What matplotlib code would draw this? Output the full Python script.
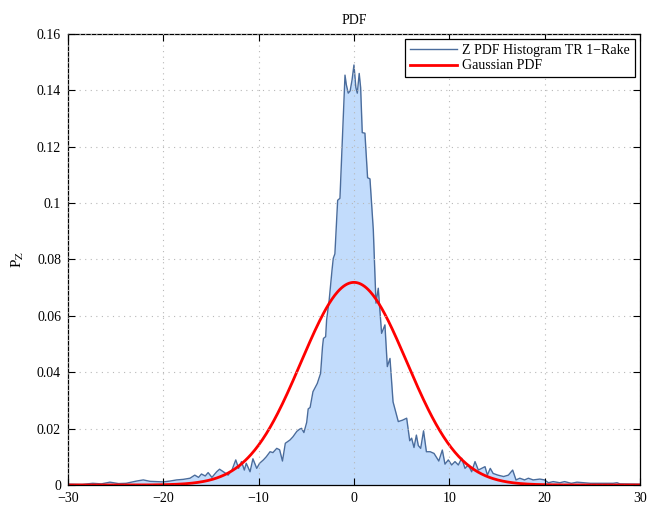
"""PDF của Z: histogram TR 1-Rake so với Gaussian PDF."""
import numpy as np
import matplotlib
matplotlib.use("Agg")
import matplotlib.pyplot as plt

plt.rcParams["font.family"] = ["Liberation Serif", "DejaVu Serif"]
plt.rcParams["mathtext.fontset"] = "stix"

# histogram
hist_x = [-30.0, -28.5, -27.4, -26.5, -25.6, -24.7, -23.9, -22.8, -22.1, -21.4,
          -20.7, -20.0, -19.3, -18.6, -17.9, -17.2, -16.7, -16.3, -16.0, -15.6,
          -15.3, -14.9, -14.4, -14.1, -13.7, -13.2, -12.8, -12.4, -12.1, -11.8,
          -11.5, -11.3, -10.9, -10.6, -10.2, -9.9, -9.5, -9.2, -8.8, -8.5,
          -8.1, -7.8, -7.5, -7.2, -6.7, -6.4, -6.0, -5.7, -5.5, -5.25,
          -4.96, -4.8, -4.6, -4.3, -3.85, -3.5, -3.3, -3.2, -2.97, -2.87,
          -2.6, -2.3, -2.17, -2.0, -1.71, -1.47, -1.2, -0.94, -0.8, -0.6,
          -0.4, -0.2, 0.0, 0.2, 0.35, 0.55, 0.7, 0.87, 1.15, 1.43,
          1.68, 2.03, 2.31, 2.55, 2.9, 3.25, 3.5, 3.78, 4.1, 4.65,
          5.1, 5.53, 5.85, 6.05, 6.3, 6.55, 6.75, 7.0, 7.3, 7.6,
          8.0, 8.4, 8.9, 9.27, 9.55, 9.9, 10.25, 10.6, 10.95, 11.3,
          11.65, 12.0, 12.35, 12.7, 13.05, 13.4, 13.75, 14.0, 14.3, 14.6,
          15.1, 15.7, 16.2, 16.65, 17.0, 17.4, 17.9, 18.3, 18.8, 19.5,
          20.0, 20.4, 20.9, 21.6, 22.1, 22.8, 23.4, 24.1, 24.8, 25.8,
          27.2, 27.6, 27.9, 30.0]
hist_p = [0.0003, 0.0002, 0.0006, 0.0004, 0.0010, 0.0005, 0.0006, 0.0014, 0.0018, 0.0013,
          0.0012, 0.0011, 0.0014, 0.0018, 0.0020, 0.0024, 0.0035, 0.0027, 0.0039, 0.0032,
          0.0044, 0.0027, 0.0047, 0.0056, 0.0047, 0.0035, 0.0053, 0.0089, 0.0059, 0.0083,
          0.0053, 0.0077, 0.0047, 0.0093, 0.0059, 0.0077, 0.0089, 0.0100, 0.0118, 0.0115,
          0.0130, 0.0125, 0.0085, 0.0148, 0.0160, 0.0171, 0.0190, 0.0198, 0.0201, 0.0186,
          0.0222, 0.0270, 0.0275, 0.0331, 0.0360, 0.0396, 0.0490, 0.0520, 0.0526, 0.0585,
          0.0656, 0.0763, 0.0804, 0.0820, 0.1010, 0.1017, 0.1240, 0.1454, 0.1420, 0.1390,
          0.1398, 0.1437, 0.1490, 0.1410, 0.1390, 0.1460, 0.1410, 0.1250, 0.1248, 0.1090,
          0.1086, 0.0905, 0.0645, 0.0698, 0.0538, 0.0568, 0.0420, 0.0449, 0.0295, 0.0225,
          0.0230, 0.0237, 0.0157, 0.0166, 0.0133, 0.0177, 0.0140, 0.0130, 0.0192, 0.0118,
          0.0118, 0.0112, 0.0085, 0.0124, 0.0074, 0.0089, 0.0071, 0.0083, 0.0071, 0.0095,
          0.0059, 0.0071, 0.0047, 0.0083, 0.0053, 0.0059, 0.0065, 0.0035, 0.0059, 0.0041,
          0.0035, 0.0030, 0.0035, 0.0053, 0.0018, 0.0024, 0.0018, 0.0024, 0.0018, 0.0021,
          0.0018, 0.0008, 0.0012, 0.0008, 0.0012, 0.0006, 0.0010, 0.0008, 0.0006, 0.0006,
          0.0006, 0.0008, 0.0004, 0.0003]

# tham số Gaussian (mu, sigma) ước lượng từ hình
gauss_mu = 0.0
gauss_sigma = 5.55

x_ticks = [-30, -20, -10, 0, 10, 20, 30]
y_ticks = [0, 0.02, 0.04, 0.06, 0.08, 0.1, 0.12, 0.14, 0.16]

gx = np.linspace(-30, 30, 601)
gy = np.exp(-0.5 * ((gx - gauss_mu) / gauss_sigma) ** 2) / (gauss_sigma * np.sqrt(2 * np.pi))

fig = plt.figure(figsize=(6.57, 5.07), dpi=100)
ax = fig.add_axes([0.1035, 0.0434, 0.8705, 0.8896])

ax.fill_between(hist_x, hist_p, 0, color="#c2dcfc", lw=0)
ax.plot(hist_x, hist_p, color="#4a6c9c", lw=1.0, label="Z PDF Histogram TR 1\u2212Rake")
ax.plot(gx, gy, color="red", lw=2.0, label="Gaussian PDF")

ax.set_xlim(-30, 30)
ax.set_ylim(0, 0.16)
ax.set_xticks(x_ticks)
ax.set_yticks(y_ticks)
ax.set_yticklabels([f"{v:g}" for v in y_ticks])
ax.grid(True, color="#b8b8b8", linestyle=(0, (1, 4)), lw=0.8)
ax.set_axisbelow(False)
ax.tick_params(direction="in", top=True, right=True, length=5, labelsize=10)
ax.tick_params(axis="x", pad=5)
ax.tick_params(axis="y", pad=5)
for s in ax.spines.values():
    s.set_linewidth(0.9)

ax.set_title("PDF", fontsize=10, pad=7)
ax.set_ylabel(r"P$_\mathrm{Z}$", fontsize=11, labelpad=8)

leg = ax.legend(loc="upper right", fontsize=10, fancybox=False, edgecolor="black",
                framealpha=1, borderaxespad=0.35, handlelength=3.4, borderpad=0.35,
                labelspacing=0.2, handletextpad=0.4)
leg.get_frame().set_linewidth(0.9)

fig.savefig("out.png", dpi=100)
plt.close(fig)
